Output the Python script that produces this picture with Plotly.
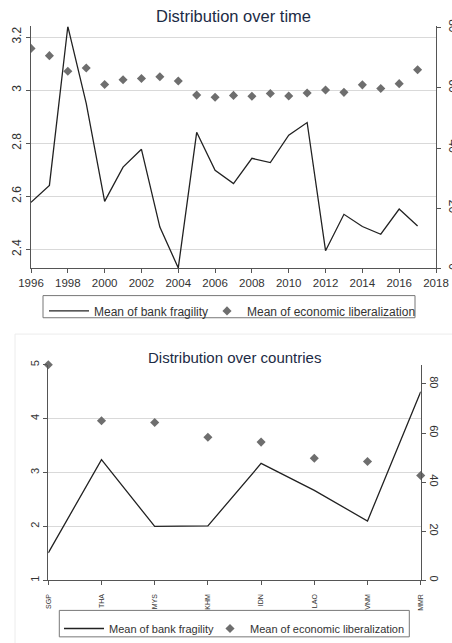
import plotly.graph_objects as go

years = list(range(1996, 2018))
fragility_time = [2.577, 2.641, 3.24, 2.95, 2.581, 2.71, 2.777, 2.484, 2.33, 2.841, 2.698,
                  2.648, 2.743, 2.727, 2.83, 2.878, 2.395, 2.532, 2.486, 2.457, 2.552, 2.488]
liberal_time = [73.1, 70.7, 65.5, 66.6, 61.1, 62.7, 63.1, 63.7, 62.3, 57.6, 56.9,
                57.5, 57.2, 58.1, 57.3, 58.3, 59.3, 58.5, 61.0, 59.8, 61.4, 66.0]

countries = ["SGP", "THA", "MYS", "KHM", "IDN", "LAO", "VNM", "MMR"]
fragility_country = [1.51, 3.24, 2.0, 2.01, 3.17, 2.67, 2.10, 4.50]
liberal_country = [87.8, 65.0, 64.3, 58.3, 56.3, 49.7, 48.4, 42.7]

year_ticks = list(range(1996, 2019, 2))
left_ticks_top = [2.4, 2.6, 2.8, 3.0, 3.2]
right_ticks = [0, 20, 40, 60, 80]
left_ticks_bottom = [1, 2, 3, 4, 5]

W, H = 452, 643
FONT = "Liberation Sans, Arial, sans-serif"
LINE_C = "#222222"
DIAM_C = "#6e6e6e"
GRID_C = "#d9d9d9"
AX_C = "#555555"
TXT_C = "#333333"
TITLE_C = "#1c2b45"
BOX_C = "#777777"


def px(x):
    return x / W


def py(y):
    return 1 - y / H


def ax(size, **kw):
    d = dict(showline=True, linecolor=AX_C, linewidth=1, ticks="outside", ticklen=4,
             tickcolor=AX_C, zeroline=False, automargin=False,
             tickfont=dict(family=FONT, color=TXT_C, size=size))
    d.update(kw)
    return d


def leg(x, y, size, itemwidth):
    return dict(orientation="h", x=px(x), xanchor="left", y=py(y), yanchor="top",
                borderwidth=0, bgcolor="rgba(0,0,0,0)", itemwidth=itemwidth,
                font=dict(family=FONT, size=size, color=TXT_C))


fig = go.Figure()

fig.add_trace(go.Scatter(x=years, y=fragility_time, mode="lines", name="Mean of bank fragility",
                         line=dict(color=LINE_C, width=1.3), xaxis="x", yaxis="y", legend="legend"))
fig.add_trace(go.Scatter(x=years, y=liberal_time, mode="markers", name="Mean of economic liberalization",
                         marker=dict(symbol="diamond", size=7, color=DIAM_C), xaxis="x", yaxis="y2",
                         legend="legend2"))
fig.add_trace(go.Scatter(x=countries, y=fragility_country, mode="lines", name="Mean of bank fragility",
                         line=dict(color=LINE_C, width=1.3), xaxis="x2", yaxis="y3", legend="legend3"))
fig.add_trace(go.Scatter(x=countries, y=liberal_country, mode="markers", name="Mean of economic liberalization",
                         marker=dict(symbol="diamond", size=7, color=DIAM_C), xaxis="x2", yaxis="y4",
                         legend="legend4", cliponaxis=False))

fig.update_layout(
    width=W, height=H, margin=dict(l=0, r=0, t=0, b=0),
    paper_bgcolor="white", plot_bgcolor="white",
    font=dict(family=FONT, color=TXT_C),
    xaxis=ax(11.5, domain=[px(31), px(436)], range=[1996, 2018], tickvals=year_ticks,
             showgrid=False, anchor="y"),
    yaxis=ax(12, domain=[py(274), py(27)], range=[2.328, 3.24], tickvals=left_ticks_top,
             showgrid=True, gridcolor=GRID_C, gridwidth=1, tickangle=-90, anchor="x",
             ticklabelstandoff=0),
    yaxis2=ax(12, overlaying="y", side="right", range=[0, 80.4], tickvals=right_ticks,
              showgrid=False, tickangle=90, anchor="x", ticklabelstandoff=3),
    xaxis2=ax(7, domain=[px(48.3), px(420.7)], range=[0, 7], type="category",
              showgrid=False, tickangle=-90, anchor="y3", ticklabelstandoff=6),
    yaxis3=ax(11, domain=[py(592.3), py(372.3)], range=[1, 5], tickvals=left_ticks_bottom,
              showgrid=True, gridcolor=GRID_C, gridwidth=1, tickangle=-90, anchor="x2"),
    yaxis4=ax(11, overlaying="y3", side="right", range=[0, 87.8], tickvals=right_ticks,
              showgrid=False, tickangle=90, anchor="x2"),
    legend=leg(44, 302.5, 12, 40),
    legend2=leg(207, 302.5, 12, 30),
    legend3=leg(59, 627, 11, 40),
    legend4=leg(210, 627, 11, 30),
    annotations=[
        dict(text="Distribution over time", x=px(233.4), y=py(16), xref="paper", yref="paper",
             xanchor="center", yanchor="middle", showarrow=False,
             font=dict(family=FONT, size=16.5, color=TITLE_C)),
        dict(text="Distribution over countries", x=px(234.2), y=py(364.5), xref="paper", yref="paper",
             xanchor="center", yanchor="middle", showarrow=False,
             font=dict(family=FONT, size=15, color=TITLE_C)),
    ],
    shapes=[
        dict(type="rect", xref="paper", yref="paper", x0=px(15), x1=px(470), y0=py(680), y1=py(341),
             line=dict(color="#ececec", width=1), fillcolor="rgba(0,0,0,0)", layer="below"),
        dict(type="rect", xref="paper", yref="paper", x0=px(43), x1=px(415), y0=py(324.3), y1=py(301.7),
             line=dict(color=BOX_C, width=1), fillcolor="rgba(0,0,0,0)", layer="below"),
        dict(type="rect", xref="paper", yref="paper", x0=px(59.3), x1=px(409.3), y0=py(650), y1=py(623),
             line=dict(color=BOX_C, width=1), fillcolor="rgba(0,0,0,0)", layer="below"),
    ],
    showlegend=True,
)

fig.write_html("out.html")
